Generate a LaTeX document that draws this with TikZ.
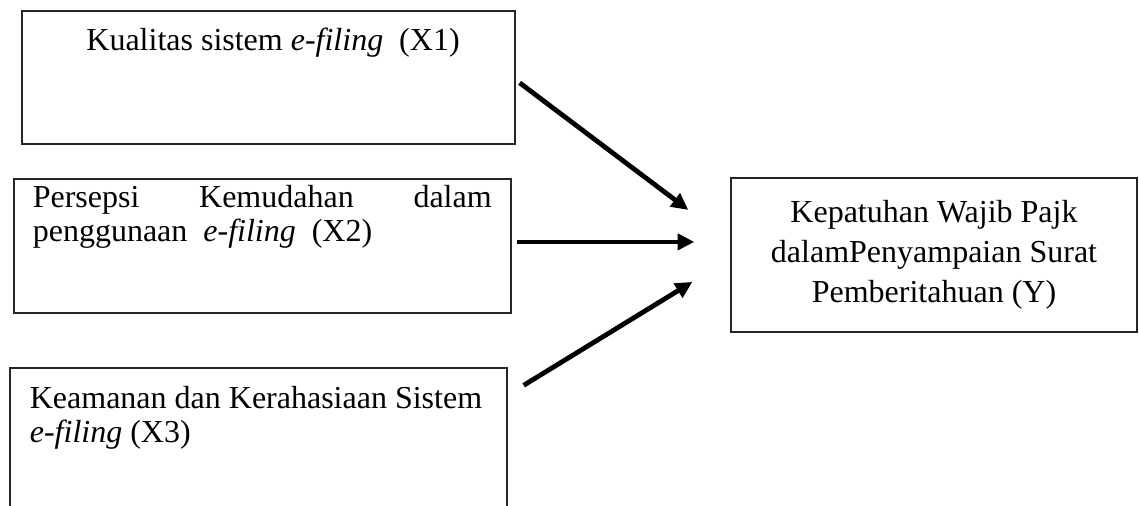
\documentclass[tikz,border=0pt]{standalone}
\usepackage{fontspec}
\setmainfont{Liberation Serif}
\usetikzlibrary{arrows.meta}
\tikzset{
	box/.style={draw=black!85, line width=0.5pt, rectangle, inner sep=0pt},
	boxtext/.style={inner sep=0pt, font=\fontsize{12}{12.6}\selectfont},
	arr/.style={line width=1.8pt, -{Triangle[length=6.3pt,width=6pt]}}
}
\begin{document}
	\begin{tikzpicture}[x=0.375pt, y=-0.375pt]
		\clip (0, 0) rectangle (1139, 506);
		\node[box, minimum width=184.875pt, minimum height=49.875pt] (x1) at (268.5, 77.5) {};
		\node[box, minimum width=186.375pt, minimum height=50.25pt] (x2) at (262.5, 246) {};
		\node[box, minimum width=186.375pt, minimum height=75pt] (x3) at (258.5, 468) {};
		\node[box, minimum width=152.25pt, minimum height=57.75pt, align=center, font=\fontsize{12}{15}\selectfont] (y) at (934, 255) {Kepatuhan Wajib Pajk\\dalamPenyampaian Surat\\Pemberitahuan (Y)};
		\node[boxtext, anchor=base] (x1t) at ([xshift=1.7pt, yshift=-15pt]x1.north) {Kualitas sistem \textit{e-filing}\ \ (X1)};
		\node[boxtext, anchor=base west, text width=172.1pt, align=justify] (x2t) at ([xshift=7.1pt, yshift=-11pt]x2.north west) {Persepsi Kemudahan dalam\linebreak penggunaan\ \ \textit{e-filing}\ \ (X2)};
		\node[boxtext, anchor=base west, text width=175pt, align=flush left] (x3t) at ([xshift=7.5pt, yshift=-15.4pt]x3.north west) {Keamanan dan Kerahasiaan Sistem\\\textit{e-filing} (X3)};
		\coordinate (t1) at ([xshift=-15.75pt, yshift=16.9pt]y.west);
		\coordinate (t2) at ([xshift=-13.5pt, yshift=4.9pt]y.west);
		\coordinate (t3) at ([xshift=-14.25pt, yshift=-10.1pt]y.west);
		\draw[arr] ([xshift=1.5pt, yshift=-2pt]x1.east) -- (t1);
		\draw[arr] ([xshift=1.9pt]x2.east |- t2) -- (t2);
		\draw[arr] ([xshift=6pt, yshift=-6.75pt]x3.north east) -- (t3);
	\end{tikzpicture}
\end{document}
